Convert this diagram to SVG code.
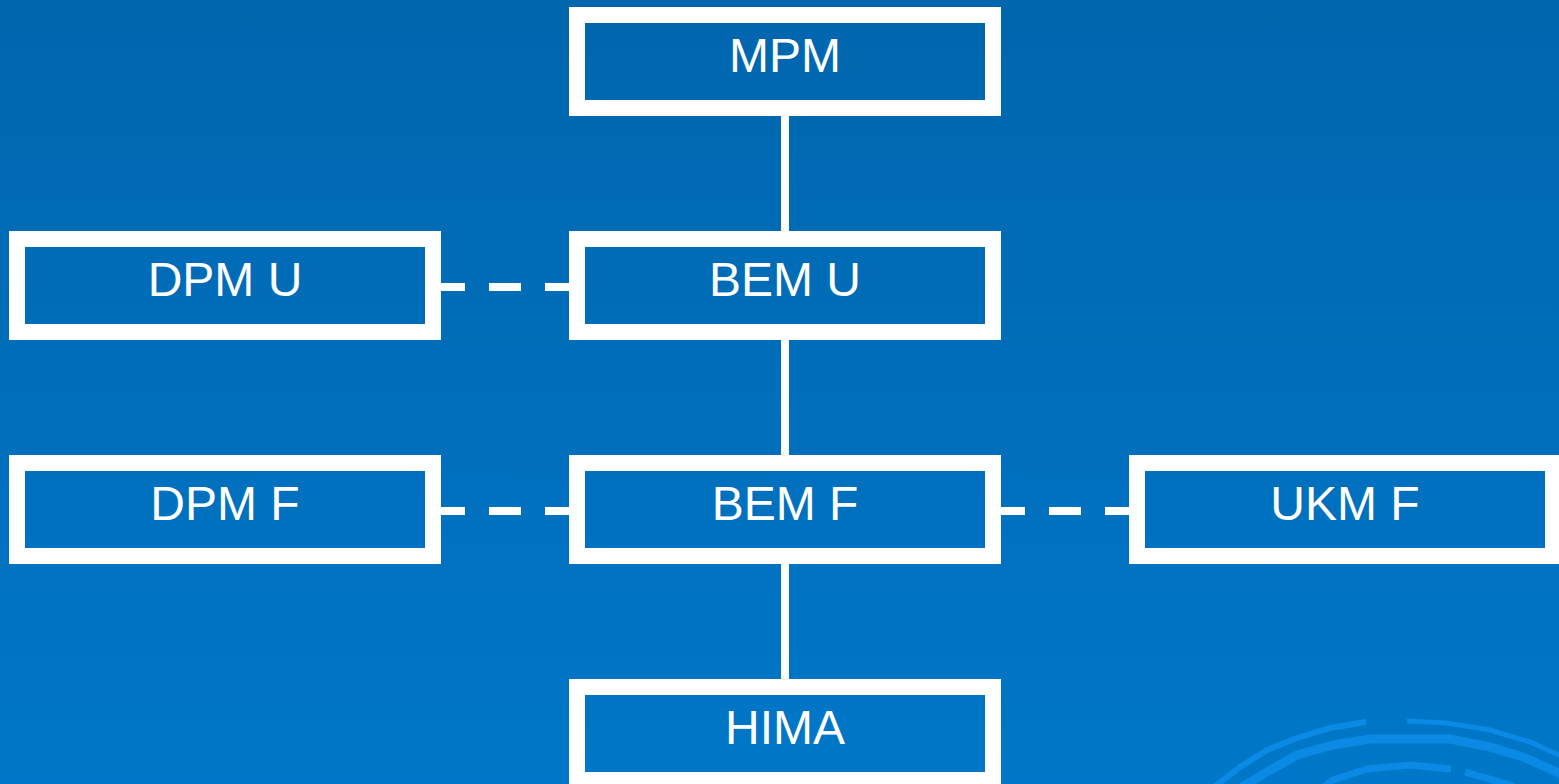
<svg xmlns="http://www.w3.org/2000/svg" width="1559" height="784" viewBox="0 0 1559 784">
  <defs>
    <linearGradient id="bg" x1="0" y1="0" x2="0" y2="1">
      <stop offset="0" stop-color="#0066AE"/>
      <stop offset="1" stop-color="#0077C8"/>
    </linearGradient>
    <style>
      .box { fill: none; stroke: #FFFFFF; stroke-width: 16; }
      .lbl { fill: #FFFFFF; font-family: "Liberation Sans", Arial, sans-serif; font-size: 48px; text-anchor: middle; }
      .solid { stroke: #FFFFFF; stroke-width: 8; fill: none; }
      .dash { stroke: #FFFFFF; stroke-width: 8; fill: none; stroke-dasharray: 24 24 32 24; }
      .arc { fill: none; stroke: #0A8AE4; stroke-linejoin: round; }
    </style>
  </defs>
  <rect x="0" y="0" width="1559" height="784" fill="url(#bg)"/>
  <g id="decor">
    <polyline class="arc" stroke-width="6" points="1210,790 1218,784 1240,767 1267,750 1297,738 1330,728 1366,722"/>
    <polyline class="arc" stroke-width="5" points="1407,721 1447,723 1490,730 1530,742 1559,755 1570,761"/>
    <polyline class="arc" stroke-width="9" points="1238,790 1247,784 1267,772 1297,755 1333,745 1370,739 1450,739 1490,747 1523,757 1559,773 1570,779"/>
    <polyline class="arc" stroke-width="7" points="1320,790 1333,780 1367,769 1410,765 1451,769"/>
    <polyline class="arc" stroke-width="7" points="1465,772 1507,784 1520,790"/>
  </g>
  <g id="connectors">
    <line class="solid" x1="785" y1="116" x2="785" y2="231"/>
    <line class="solid" x1="785" y1="340" x2="785" y2="455"/>
    <line class="solid" x1="785" y1="564" x2="785" y2="679"/>
    <line class="dash" x1="441" y1="287" x2="569" y2="287"/>
    <line class="dash" x1="441" y1="511" x2="569" y2="511"/>
    <line class="dash" x1="1001" y1="511" x2="1129" y2="511"/>
  </g>
  <g id="node-mpm">
    <rect class="box" x="577" y="15" width="416" height="93"/>
    <text class="lbl" x="785" y="72">MPM</text>
  </g>
  <g id="node-bem-u">
    <rect class="box" x="577" y="239" width="416" height="93"/>
    <text class="lbl" x="785" y="296">BEM U</text>
  </g>
  <g id="node-dpm-u">
    <rect class="box" x="17" y="239" width="416" height="93"/>
    <text class="lbl" x="225" y="296">DPM U</text>
  </g>
  <g id="node-bem-f">
    <rect class="box" x="577" y="463" width="416" height="93"/>
    <text class="lbl" x="785" y="520">BEM F</text>
  </g>
  <g id="node-dpm-f">
    <rect class="box" x="17" y="463" width="416" height="93"/>
    <text class="lbl" x="225" y="520">DPM F</text>
  </g>
  <g id="node-ukm-f">
    <rect class="box" x="1137" y="463" width="416" height="93"/>
    <text class="lbl" x="1345" y="520">UKM F</text>
  </g>
  <g id="node-hima">
    <rect class="box" x="577" y="687" width="416" height="93"/>
    <text class="lbl" x="785" y="744">HIMA</text>
  </g>
</svg>
